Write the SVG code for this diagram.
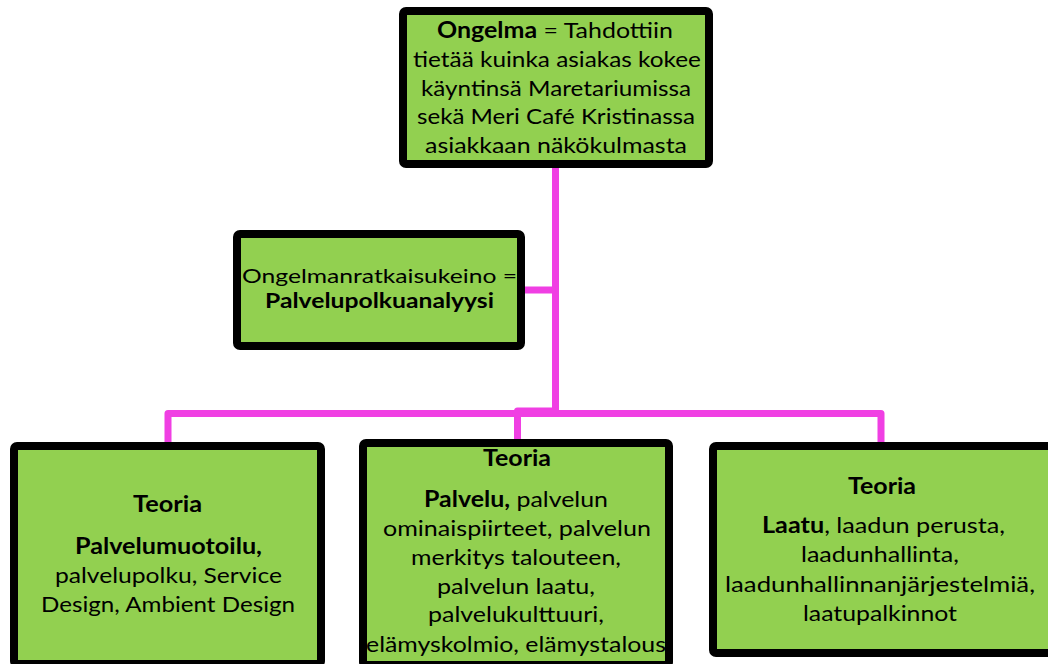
<svg xmlns="http://www.w3.org/2000/svg" width="1048" height="664" viewBox="0 0 1048 664">
<style>
.box{fill:#92D050;stroke:#000;stroke-width:8;stroke-linejoin:round}
.t{font-family:Lato,"Open Sans","Liberation Sans",sans-serif;font-size:22px;fill:#000;text-anchor:middle}
.s{font-size:20px}
.b{font-weight:bold}
.c{fill:none;stroke:#F03FE3;stroke-width:7;stroke-linejoin:round}
</style>
<rect width="1048" height="664" fill="#fff"/>
<g id="connectors">
<path class="c" d="M555.5 168V413.5"/>
<path class="c" d="M521 290H555.5"/>
<path class="c" d="M168 442V413.5H881V442"/>
<path class="c" d="M517.5 440V411H555.5V413.5"/>
</g>
<g id="ongelma">
<rect class="box" x="403" y="11" width="306" height="153" rx="3"/>
<text class="t" x="555" y="38" textLength="236" lengthAdjust="spacingAndGlyphs"><tspan class="b">Ongelma</tspan> = Tahdottiin</text>
<text class="t" x="557" y="67" textLength="288" lengthAdjust="spacingAndGlyphs">tietää kuinka asiakas kokee</text>
<text class="t" x="556" y="96" textLength="270" lengthAdjust="spacingAndGlyphs">käyntinsä Maretariumissa</text>
<text class="t" x="556" y="124" textLength="278" lengthAdjust="spacingAndGlyphs">sekä Meri Café Kristinassa</text>
<text class="t" x="556" y="153" textLength="262" lengthAdjust="spacingAndGlyphs">asiakkaan näkökulmasta</text>
</g>
<g id="ratkaisukeino">
<rect class="box" x="237" y="234" width="284" height="112" rx="3"/>
<text class="t s" x="379.5" y="283" textLength="275" lengthAdjust="spacingAndGlyphs">Ongelmanratkaisukeino =</text>
<text class="t s b" x="379.5" y="308" textLength="229" lengthAdjust="spacingAndGlyphs">Palvelupolkuanalyysi</text>
</g>
<g id="teoria-palvelumuotoilu">
<rect class="box" x="14" y="446" width="307" height="218" rx="3"/>
<text class="t b" x="167.5" y="512" textLength="69" lengthAdjust="spacingAndGlyphs">Teoria</text>
<text class="t b" x="168.5" y="554" textLength="187" lengthAdjust="spacingAndGlyphs">Palvelumuotoilu,</text>
<text class="t" x="168.5" y="583" textLength="227" lengthAdjust="spacingAndGlyphs">palvelupolku, Service</text>
<text class="t" x="168" y="612" textLength="254" lengthAdjust="spacingAndGlyphs">Design, Ambient Design</text>
</g>
<g id="teoria-palvelu">
<rect class="box" x="363" y="443" width="306" height="222" rx="3"/>
<text class="t b" x="517" y="466" textLength="68" lengthAdjust="spacingAndGlyphs">Teoria</text>
<text class="t" x="516" y="507" textLength="184" lengthAdjust="spacingAndGlyphs"><tspan class="b">Palvelu,</tspan> palvelun</text>
<text class="t" x="517" y="536" textLength="268" lengthAdjust="spacingAndGlyphs">ominaispiirteet, palvelun</text>
<text class="t" x="516" y="565" textLength="210" lengthAdjust="spacingAndGlyphs">merkitys talouteen,</text>
<text class="t" x="516" y="594" textLength="158" lengthAdjust="spacingAndGlyphs">palvelun laatu,</text>
<text class="t" x="516" y="622" textLength="176" lengthAdjust="spacingAndGlyphs">palvelukulttuuri,</text>
<text class="t" x="516" y="652" textLength="300" lengthAdjust="spacingAndGlyphs">elämyskolmio, elämystalous</text>
</g>
<g id="teoria-laatu">
<rect class="box" x="713" y="446" width="340" height="207" rx="3"/>
<text class="t b" x="882" y="494" textLength="68" lengthAdjust="spacingAndGlyphs">Teoria</text>
<text class="t" x="883.5" y="533" textLength="243" lengthAdjust="spacingAndGlyphs"><tspan class="b">Laatu</tspan>, laadun perusta,</text>
<text class="t" x="880" y="562" textLength="158" lengthAdjust="spacingAndGlyphs">laadunhallinta,</text>
<text class="t" x="880" y="592" textLength="310" lengthAdjust="spacingAndGlyphs">laadunhallinnanjärjestelmiä,</text>
<text class="t" x="880" y="621" textLength="154" lengthAdjust="spacingAndGlyphs">laatupalkinnot</text>
</g>
</svg>
